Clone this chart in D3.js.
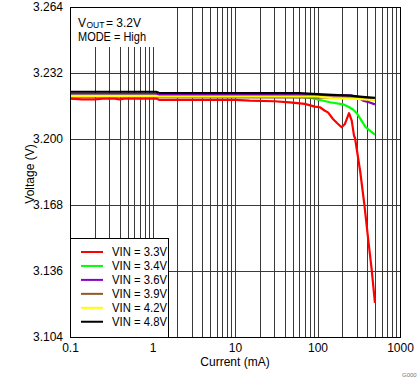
<!DOCTYPE html>
<html>
<head>
<meta charset="utf-8">
<script src="https://cdn.jsdelivr.net/npm/d3@7"></script>
<style>
  html, body { margin: 0; padding: 0; background: #fff; }
  svg { display: block; font-family: "Liberation Sans", Arial, sans-serif; }
</style>
</head>
<body>
<svg id="chart" width="419" height="382"></svg>
<script>
// ---- data ----
const seriesNames = ["VIN = 3.3V", "VIN = 3.4V", "VIN = 3.6V", "VIN = 3.9V", "VIN = 4.2V", "VIN = 4.8V"];
const seriesColors = ["#ff0000", "#00ff00", "#8800cc", "#8c5a28", "#ffff00", "#000000"];

const vin33 = [[0.1,3.2196],[0.14,3.2192],[0.2,3.2192],[0.25,3.2196],[0.35,3.2196],[0.4,3.2192],[0.45,3.2196],[1.1,3.2196],[1.2,3.2190],[10,3.2190],[15,3.2186],[30,3.2183],[46,3.2178],[70,3.2170],[93,3.2157],[107,3.2154],[123,3.2137],[134,3.2129],[154,3.2097],[175,3.2075],[196,3.2057],[215,3.2073],[241,3.2125],[260,3.2089],[277,3.2016],[285,3.2005],[330,3.1840],[369,3.1685],[410,3.1520],[454,3.1365],[497,3.1205]];
const vin34 = [[0.1,3.2216],[1.1,3.2214],[1.2,3.2212],[46,3.2210],[64,3.2204],[81,3.2200],[107,3.2189],[142,3.2178],[204,3.2168],[240,3.2155],[269,3.2143],[300,3.2125],[340,3.2090],[384,3.2057],[497,3.2021]];
const vin36 = [[0.1,3.2220],[1.1,3.2220],[1.2,3.2214],[250,3.2212],[300,3.2204],[356,3.2186],[420,3.2178],[497,3.2168]];
const vin39 = [[0.1,3.2205],[1.1,3.2205],[1.2,3.2203],[300,3.2201],[497,3.2190]];
const vin42 = [[0.1,3.2209],[1.1,3.2209],[1.2,3.2206],[100,3.2206],[150,3.2198],[250,3.2196],[497,3.2189]];
const vin48 = [[0.1,3.2229],[1.1,3.2229],[1.2,3.2224],[60,3.2222],[100,3.2218],[150,3.2214],[250,3.2210],[350,3.2204],[497,3.2199]];
const seriesData = [vin33, vin34, vin36, vin39, vin42, vin48];

const xTickValues = [0.1, 1, 10, 100, 1000];
const xTickLabels = ["0.1", "1", "10", "100", "1000"];
const yTickValues = [3.104, 3.136, 3.168, 3.2, 3.232, 3.264];
const yTickLabels = ["3.104", "3.136", "3.168", "3.200", "3.232", "3.264"];

// ---- layout ----
const L = 70, R = 400, T = 7, B = 337;
const svg = d3.select("#chart");
const x = d3.scaleLog().domain([0.1, 1000]).range([L, R]);
const y = d3.scaleLinear().domain([3.104, 3.264]).range([B, T]);

// minor grid values (1..9 per decade)
const gridX = [];
[0.1, 1, 10, 100].forEach(d => { for (let k = 1; k <= 9; k++) gridX.push(d * k); });
gridX.push(1000);

const grid = svg.append("g");
grid.selectAll("line.vx").data(gridX).enter().append("line")
  .attr("x1", d => Math.round(x(d)) + 0.5).attr("x2", d => Math.round(x(d)) + 0.5)
  .attr("y1", T).attr("y2", B)
  .attr("stroke", "#3a3a3a").attr("stroke-width", 1);
grid.selectAll("line.hy").data(yTickValues).enter().append("line")
  .attr("x1", L).attr("x2", R)
  .attr("y1", d => Math.round(y(d)) + 0.5).attr("y2", d => Math.round(y(d)) + 0.5)
  .attr("stroke", "#3a3a3a").attr("stroke-width", 1);

// annotation box (hides grid)
svg.append("rect").attr("x", L + 1).attr("y", T + 1).attr("width", 90).attr("height", 39).attr("fill", "#fff");
const ann = svg.append("g").attr("font-size", 12).attr("fill", "#000");
ann.append("text").attr("x", 78).attr("y", 26.5).text("V");
ann.append("text").attr("x", 86.5).attr("y", 27.5).attr("font-size", 8.5).text("OUT");
ann.append("text").attr("x", 106).attr("y", 26.5).text("= 3.2V");
ann.append("text").attr("x", 78).attr("y", 40.5).attr("textLength", 68).attr("lengthAdjust", "spacingAndGlyphs").text("MODE = High");

// curves
const line = d3.line().x(d => x(d[0])).y(d => y(d[1]));
seriesData.forEach((s, i) => {
  svg.append("path").datum(s).attr("d", line)
    .attr("fill", "none").attr("stroke", seriesColors[i]).attr("stroke-width", 2.2)
    .attr("stroke-linejoin", "round");
});

// legend
const lg = svg.append("g");
lg.append("rect").attr("x", L + 0.5).attr("y", 238.5).attr("width", 98).attr("height", B - 238)
  .attr("fill", "#fff").attr("stroke", "#000").attr("stroke-width", 1);
seriesNames.forEach((n, i) => {
  const cy = 252 + i * 13.95;
  lg.append("line").attr("x1", 81).attr("x2", 103).attr("y1", cy).attr("y2", cy)
    .attr("stroke", seriesColors[i]).attr("stroke-width", 2);
  lg.append("text").attr("x", 112).attr("y", cy + 4.3).attr("font-size", 12)
    .attr("textLength", 55).attr("lengthAdjust", "spacingAndGlyphs").text(n);
});

// frame
svg.append("rect").attr("x", L + 0.5).attr("y", T + 0.5).attr("width", R - L).attr("height", B - T)
  .attr("fill", "none").attr("stroke", "#000").attr("stroke-width", 1);

// axes (labels only)
const xAxis = d3.axisBottom(x).tickValues(xTickValues).tickSize(0).tickPadding(6)
  .tickFormat((d, i) => xTickLabels[i]);
const gx = svg.append("g").attr("transform", `translate(0,${B})`).call(xAxis);
gx.select(".domain").remove();
gx.selectAll("text").attr("font-size", 12).attr("fill", "#000").attr("font-family", "Liberation Sans, Arial, sans-serif");

const yAxis = d3.axisLeft(y).tickValues(yTickValues).tickSize(0).tickPadding(7)
  .tickFormat((d, i) => yTickLabels[i]);
const gy = svg.append("g").attr("transform", `translate(${L},0)`).call(yAxis);
gy.select(".domain").remove();
gy.selectAll("text").attr("font-size", 12).attr("fill", "#000").attr("font-family", "Liberation Sans, Arial, sans-serif");

// axis titles
svg.append("text").attr("x", (L + R) / 2).attr("y", 366).attr("text-anchor", "middle")
  .attr("font-size", 12).text("Current (mA)");
svg.append("text").attr("transform", `translate(34,${(T + B) / 2 + 2}) rotate(-90)`).attr("text-anchor", "middle")
  .attr("font-size", 12).text("Voltage (V)");

svg.append("text").attr("x", 402).attr("y", 377).attr("font-size", 6).attr("fill", "#777").text("G000");
</script>
</body>
</html>
